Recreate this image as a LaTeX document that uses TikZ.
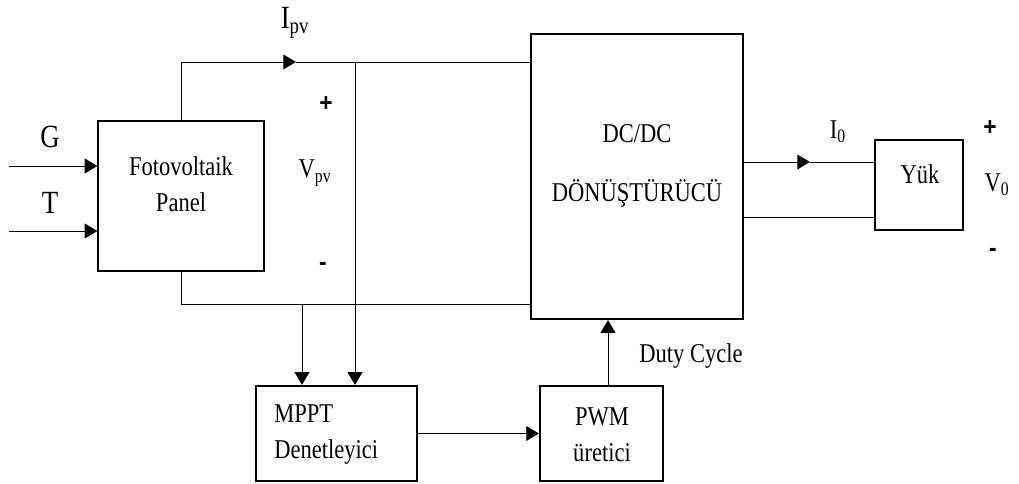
\documentclass[tikz,border=0pt]{standalone}
\usepackage{fontspec}
\setmainfont{Liberation Serif}[FakeStretch=0.83]
\newfontfamily\signfont{Liberation Sans}[FakeStretch=0.9]
\usetikzlibrary{arrows.meta,positioning}

\begin{document}
\begin{tikzpicture}[x=0.025cm,y=-0.025cm,
    font=\fontsize{19.3}{25.6}\selectfont,
    box/.style={draw,line width=1.4pt,inner sep=0pt},
    txt/.style={align=center,inner sep=0pt},
    big/.style={font=\fontsize{23}{23}\selectfont},
    wire/.style={line width=0.7pt},
    arr/.style={wire,-{Triangle[length=9pt,width=10.5pt]}},
    sign/.style={font=\signfont\bfseries\fontsize{18}{18}\selectfont}]
  \useasboundingbox (0,0) rectangle (1019,484);

  % blocks
  \node[box,minimum width=4.13cm,minimum height=3.73cm] (pv) at (181,196) {};
  \node[txt] (pvtext) at (181,184) {Fotovoltaik\\Panel};
  \node[box,minimum width=5.3cm,minimum height=7.13cm] (dc) at (637,176.5) {};
  \node[txt] (dctext) at (637,166) {DC/DC\\[0.58cm]DÖNÜŞTÜRÜCÜ};
  \node[box,minimum width=2.2cm,minimum height=2.25cm] (yuk) at (919,185) {};
  \node[txt] (yuktext) at (920,174) {Yük};
  \node[box,minimum width=4.03cm,minimum height=2.38cm] (mppt) at (336.5,433.5) {};
  \node[txt,align=left,anchor=west] (mppttext) at (274,435) {MPPT\\Denetleyici};
  \node[box,minimum width=3.08cm,minimum height=2.38cm] (pwm) at (601.5,433.5) {};
  \node[txt] (pwmtext) at (602,435) {PWM\\üretici};

  % inputs G, T
  \coordinate (gin) at (9,166);
  \coordinate (tin) at (9,231);
  \draw[arr] (gin) -- (gin -| pv.west);
  \draw[arr] (tin) -- (tin -| pv.west);
  \node[big] (glab) at (50,137) {G};
  \node[big] (tlab) at (50,203) {T};

  % PV side wires
  \coordinate (ipvtip) at (296,62);
  \coordinate (vtap) at (355,62);
  \coordinate (gnd) at (181,304);
  \coordinate (itap) at (302,304);
  \draw[arr] (pv.north) |- (ipvtip);
  \draw[wire] (ipvtip) -- (ipvtip -| dc.west);
  \draw[wire] (pv.south) -- (gnd) -- (gnd -| dc.west);
  \draw[arr] (vtap) -- (vtap |- mppt.north);
  \draw[arr] (itap) -- (itap |- mppt.north);
  \node[big] (ipvlab) at (295,23) {I\textsubscript{pv}};
  \node[sign] (pvplus) at (326,104) {+};
  \node (vpvlab) at (315,173) {V\textsubscript{pv}};
  \node[sign] (pvminus) at (323,266) {-};

  % control path
  \draw[arr] (mppt) -- (pwm);
  \coordinate (duty) at (608,0);
  \draw[arr] (duty |- pwm.north) -- (duty |- dc.south);
  \node (dutylab) at (691,356) {Duty Cycle};

  % output side
  \coordinate (iotip) at (810,162);
  \coordinate (vneg) at (0,217);
  \draw[arr] (iotip -| dc.east) -- (iotip);
  \draw[wire] (iotip) -- (iotip -| yuk.west);
  \draw[wire] (vneg -| dc.east) -- (vneg -| yuk.west);
  \node (iolab) at (838,132) {I\textsubscript{0}};
  \node[sign] (oplus) at (990,128) {+};
  \node (volab) at (997,185) {V\textsubscript{0}};
  \node[sign] (ominus) at (993,252) {-};
\end{tikzpicture}
\end{document}
